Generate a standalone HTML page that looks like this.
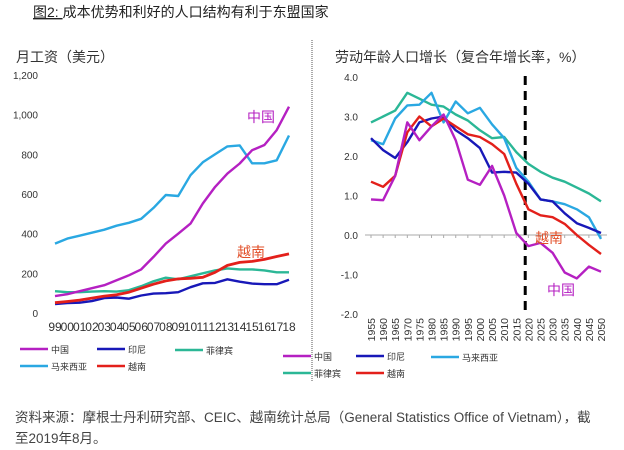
<!DOCTYPE html>
<html><head><meta charset="utf-8"><style>
body{margin:0;background:#fff;width:624px;height:450px;overflow:hidden;font-family:"Liberation Sans","Noto Sans CJK SC",sans-serif;}
svg{position:absolute;left:0;top:0}
</style></head><body>
<svg id="s" width="624" height="450">
<text x="33" y="17" font-size="14" fill="#222"><tspan text-decoration="underline">图2: </tspan>成本优势和利好的人口结构有利于东盟国家</text>
<text x="16" y="62" font-size="14" fill="#333">月工资（美元）</text>
<text x="335" y="62" font-size="14" fill="#333">劳动年龄人口增长（复合年增长率，%）</text>
<line x1="312" y1="40" x2="312" y2="382" stroke="#555" stroke-dasharray="1,1"/>
<g id="L"></g><g id="R"></g>
<text x="15" y="422" font-size="13.5" fill="#444">资料来源：摩根士丹利研究部、CEIC、越南统计总局（General Statistics Office of Vietnam），截</text>
<text x="15" y="443" font-size="13.5" fill="#444">至2019年8月。</text>
</svg>
<script>
const NS="http://www.w3.org/2000/svg";
const colors={cn:"#b520c2",id:"#1818b8",my:"#2aa8e2",ph:"#2bb796",vn:"#e3201b"};
// Left chart data
const wageYears=["99","00","01","02","03","04","05","06","07","08","09","10","11","12","13","14","15","16","17","18"];
const wageTicks=[0,200,400,600,800,1000,1200];
const wageChina=[85,95,110,125,140,165,190,220,283,350,400,451,552,636,703,754,821,847,922,1040];
const wageMalaysia=[350,375,390,405,420,440,455,475,530,595,590,695,760,800,840,845,755,755,770,895];
const wagePhilippines=[110,105,105,108,110,108,115,135,160,178,170,185,200,215,225,220,220,215,205,205];
const wageVietnam=[52,58,65,75,85,92,105,125,145,162,172,175,180,205,240,255,260,270,285,298];
const wageIndonesia=[45,50,52,60,75,78,72,88,98,100,105,130,150,152,170,158,148,145,145,168];
// Right chart data
const popYears=["1955","1960","1965","1970","1975","1980","1985","1990","1995","2000","2005","2010","2015","2020","2025","2030","2035","2040","2045","2050"];
const popTicks=[-2,-1,0,1,2,3,4];
const popTickLabels=["-2.0","-1.0","0.0","1.0","2.0","3.0","4.0"];
const popChina=[0.9,0.88,1.5,2.85,2.4,2.75,3.05,2.4,1.4,1.27,1.75,1.0,0.05,-0.28,-0.2,-0.45,-0.95,-1.1,-0.8,-0.93];
const popIndonesia=[2.45,2.15,1.95,2.35,2.85,2.95,3.0,2.65,2.45,2.2,1.58,1.6,1.58,1.3,0.9,0.85,0.55,0.3,0.18,0.05];
const popMalaysia=[2.4,2.3,2.95,3.28,3.3,3.6,2.85,3.38,3.08,3.22,2.8,2.45,1.7,1.35,0.9,0.85,0.78,0.65,0.45,-0.1];
const popPhilippines=[2.85,3.0,3.15,3.6,3.45,3.3,3.25,3.05,2.9,2.65,2.45,2.48,2.1,1.8,1.6,1.45,1.35,1.2,1.05,0.85];
const popVietnam=[1.35,1.22,1.5,2.6,3.0,2.75,2.95,2.75,2.55,2.48,2.3,2.05,1.3,0.65,0.5,0.45,0.28,0.0,-0.25,-0.48];
const popForecastStart=2018.7;

function mk(tag,attrs,parent,txt){const e=document.createElementNS(NS,tag);for(const k in attrs)e.setAttribute(k,attrs[k]);if(txt!=null)e.textContent=txt;parent.appendChild(e);return e;}
function pathD(vals,fx,fy){return vals.map((v,i)=>(i?"L":"M")+fx(i).toFixed(1)+","+fy(v).toFixed(1)).join("");}

// Left
const L=document.getElementById("L");
const lx=i=>55+i*(289-55)/(wageYears.length-1);
const ly=v=>313-v*(313-75)/1200;
wageTicks.forEach(t=>{const e=mk("text",{x:38,y:ly(t)+4,"font-size":10,fill:"#333","text-anchor":"end"},L,t.toLocaleString("en-US"));

});
wageYears.forEach((y,i)=>{const e=mk("text",{x:lx(i),y:331,"font-size":12,fill:"#333","text-anchor":"middle"},L,y);

});
[["my",wageMalaysia],["ph",wagePhilippines],["id",wageIndonesia],["vn",wageVietnam],["cn",wageChina]].forEach(([k,d])=>{
const p=mk("path",{d:pathD(d,lx,ly),fill:"none",stroke:colors[k],"stroke-width":k=="vn"?2.8:2.4,"stroke-linejoin":"round"},L);

});
let a=mk("text",{x:247,y:122,"font-size":14,fill:colors.cn},L,"中国");


a=mk("text",{x:237,y:257,"font-size":14,fill:"#e2502a"},L,"越南");



// Right
const R=document.getElementById("R");
const rx=i=>371+i*(601-371)/(popYears.length-1);
const ry=v=>235-v*(235-77)/4;
popTicks.forEach((t,i)=>{const e=mk("text",{x:358,y:ry(t)+4,"font-size":10,fill:"#333","text-anchor":"end"},R,popTickLabels[i]);

});
let ax=mk("line",{x1:365,y1:ry(0),x2:607,y2:ry(0),stroke:"#aaa","stroke-width":1},R);


popYears.forEach((y,i)=>{
const tk=mk("line",{x1:rx(i),y1:ry(0),x2:rx(i),y2:ry(0)+3,stroke:"#aaa"},R);


const e=mk("text",{x:0,y:0,"font-size":10.5,fill:"#333","text-anchor":"end",transform:`translate(${rx(i)+4},318) rotate(-90)`},R,y);

});
const fxv=371+(popForecastStart-1955)/5*(601-371)/(popYears.length-1);
let dl=mk("line",{x1:fxv,y1:76,x2:fxv,y2:313,stroke:"#000","stroke-width":3,"stroke-dasharray":"9,6"},R);


[["ph",popPhilippines],["my",popMalaysia],["id",popIndonesia],["vn",popVietnam],["cn",popChina]].forEach(([k,d])=>{
const p=mk("path",{d:pathD(d,rx,ry),fill:"none",stroke:colors[k],"stroke-width":2.4,"stroke-linejoin":"round"},R);

});
a=mk("text",{x:535,y:243,"font-size":14,fill:"#e2502a"},R,"越南");


a=mk("text",{x:547,y:295,"font-size":14,fill:colors.cn},R,"中国");



// Legends
const names={cn:"中国",id:"印尼",ph:"菲律宾",my:"马来西亚",vn:"越南"};
const S=document.getElementById("s");
[[20,349,"cn"],[97,349,"id"],[175,350,"ph"],[20,366,"my"],[97,366,"vn"],
 [283,356,"cn"],[356,356,"id"],[431,357,"my"],[283,373,"ph"],[356,373,"vn"]].forEach(([x,y,k])=>{
const g=mk("g",{},S);


mk("line",{x1:x,y1:y,x2:x+28,y2:y,stroke:colors[k],"stroke-width":2.5},g);
mk("text",{x:x+31,y:y+4,"font-size":9,fill:"#333"},g,names[k]);});
</script>
</body></html>
